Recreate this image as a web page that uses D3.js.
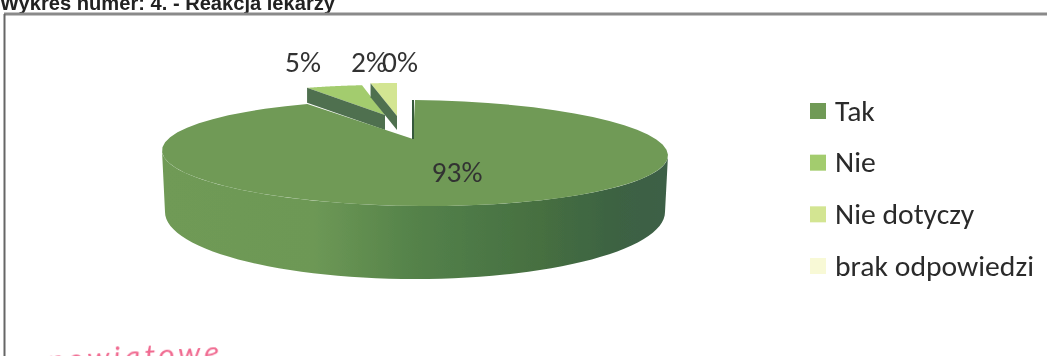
<!DOCTYPE html>
<html><head><meta charset="utf-8">
<script src="https://cdnjs.cloudflare.com/ajax/libs/d3/7.8.5/d3.min.js"></script>
<style>html,body{margin:0;padding:0;background:#fff;overflow:hidden}svg{display:block}text{font-family:Carlito,Lato,"Open Sans",sans-serif}</style>
</head><body><svg id="c" width="1047" height="356"></svg>
<script>
const categories = ["Tak","Nie","Nie dotyczy","brak odpowiedzi"];
const values = [93,5,2,0];
const colors = ["#6f9a56","#a3cc6e","#d3e592","#f8f9d6"];
const title = "Wykres numer: 4. - Reakcja lekarzy";
const note = "powiatowe";

const svg = d3.select("#c");
const defs = svg.append("defs");
const wall = defs.append("linearGradient").attr("id","wall");
[[0,"#6f9a56"],[.3,"#6d9855"],[.5,"#54824a"],[.75,"#466f41"],[.9,"#3c6243"],[1,"#3e6046"]].forEach(s=>wall.append("stop").attr("offset",s[0]).attr("stop-color",s[1]));
const blur = defs.append("filter").attr("id","soft");
blur.append("feGaussianBlur").attr("stdDeviation",0.45);

const root = svg.append("g").attr("filter","url(#soft)");

root.append("text").attr("x",0).attr("y",10).attr("font-size",21).attr("font-weight",700).attr("fill","#222")
  .attr("textLength",335).attr("lengthAdjust","spacingAndGlyphs").style("font-family","'Liberation Sans'").text(title);
root.append("line").attr("x1",4).attr("x2",1047).attr("y1",14).attr("y2",14).attr("stroke","#8a8a8a").attr("stroke-width",3);
root.append("line").attr("x1",4.5).attr("x2",4.5).attr("y1",14).attr("y2",356).attr("stroke","#666").attr("stroke-width",2);

const toRad = d3.scaleLinear().domain([0,360]).range([0,2*Math.PI]);
const pie = d3.pie().sort(null).value(d=>d).startAngle(0).endAngle(2*Math.PI)(values);
const pt=(g,a)=>{const x=g.cx+g.rx*Math.sin(a);return [x,g.cy-g.ry*Math.cos(a)+(g.tilt||0)*(x-g.cx)];};
const arcPts=(g,a0,a1)=>d3.range(0,61).map(i=>pt(g,a0+(a1-a0)*i/60));
const line=d3.line();

// exploded slices (behind the main slice)
const ex=[null,{cx:385,cy:115,rx:183,ry:30,d:15},{cx:397,cy:116,rx:211,ry:33,d:14}];
[1,2].forEach(i=>{
  const g=ex[i],s=pie[i],o=pt(g,s.startAngle);
  root.append("path").attr("d",line([[g.cx,g.cy],...arcPts(g,s.startAngle,s.endAngle)])+"Z").attr("fill",colors[i]);
  root.append("path").attr("d",line([[g.cx,g.cy],o,[o[0],o[1]+g.d],[g.cx,g.cy+g.d]])+"Z").attr("fill","#4f7050");
});

// main slice
const mg={cx:415,cy:153,rx:253,ry:53,ax:413,ay:139,tilt:0.01};
const lower={cx:415,cy:212,rx:250,ry:67};
const s0=pie[0];
root.append("path").attr("d",line([...arcPts(mg,toRad(90),toRad(270)),...arcPts(lower,toRad(270),toRad(90))])+"Z").attr("fill","url(#wall)");
root.append("path").attr("d",line([[mg.ax,mg.ay],...arcPts(mg,s0.startAngle,s0.endAngle)])+"Z").attr("fill",colors[0]);
root.append("path").attr("d",line([[mg.ax,mg.ay],[mg.ax,mg.cy-mg.ry]])).attr("stroke","#35583a").attr("stroke-width",2);

// labels
const labelPos=[[457,172],[303,62],[369,62],[400,62]];
root.selectAll("text.l").data(pie).join("text").attr("class","l")
  .attr("transform",(d,i)=>`translate(${labelPos[i][0]},${labelPos[i][1]}) scale(1.05,1)`)
  .attr("dy",".35em").attr("text-anchor","middle").attr("font-size",28).attr("fill","#333")
  .text(d=>d.data+"%");

// legend
const ly=d3.scalePoint().domain(categories).range([111,266]);
const lg=root.selectAll("g.k").data(categories).join("g").attr("class","k").attr("transform",d=>`translate(810,${ly(d)})`);
lg.append("rect").attr("x",0).attr("y",-8).attr("width",16).attr("height",16).attr("fill",(d,i)=>colors[i]);
lg.append("text").attr("transform","translate(25,0) scale(1.06,1)").attr("dy",".35em").attr("font-size",28).attr("fill","#2c2c2c").text(d=>d);

root.append("text").attr("transform","translate(48,371) rotate(-3)").attr("font-size",31).attr("font-style","italic").attr("letter-spacing",4).attr("fill","#f06a90").text(note);
</script></body></html>
